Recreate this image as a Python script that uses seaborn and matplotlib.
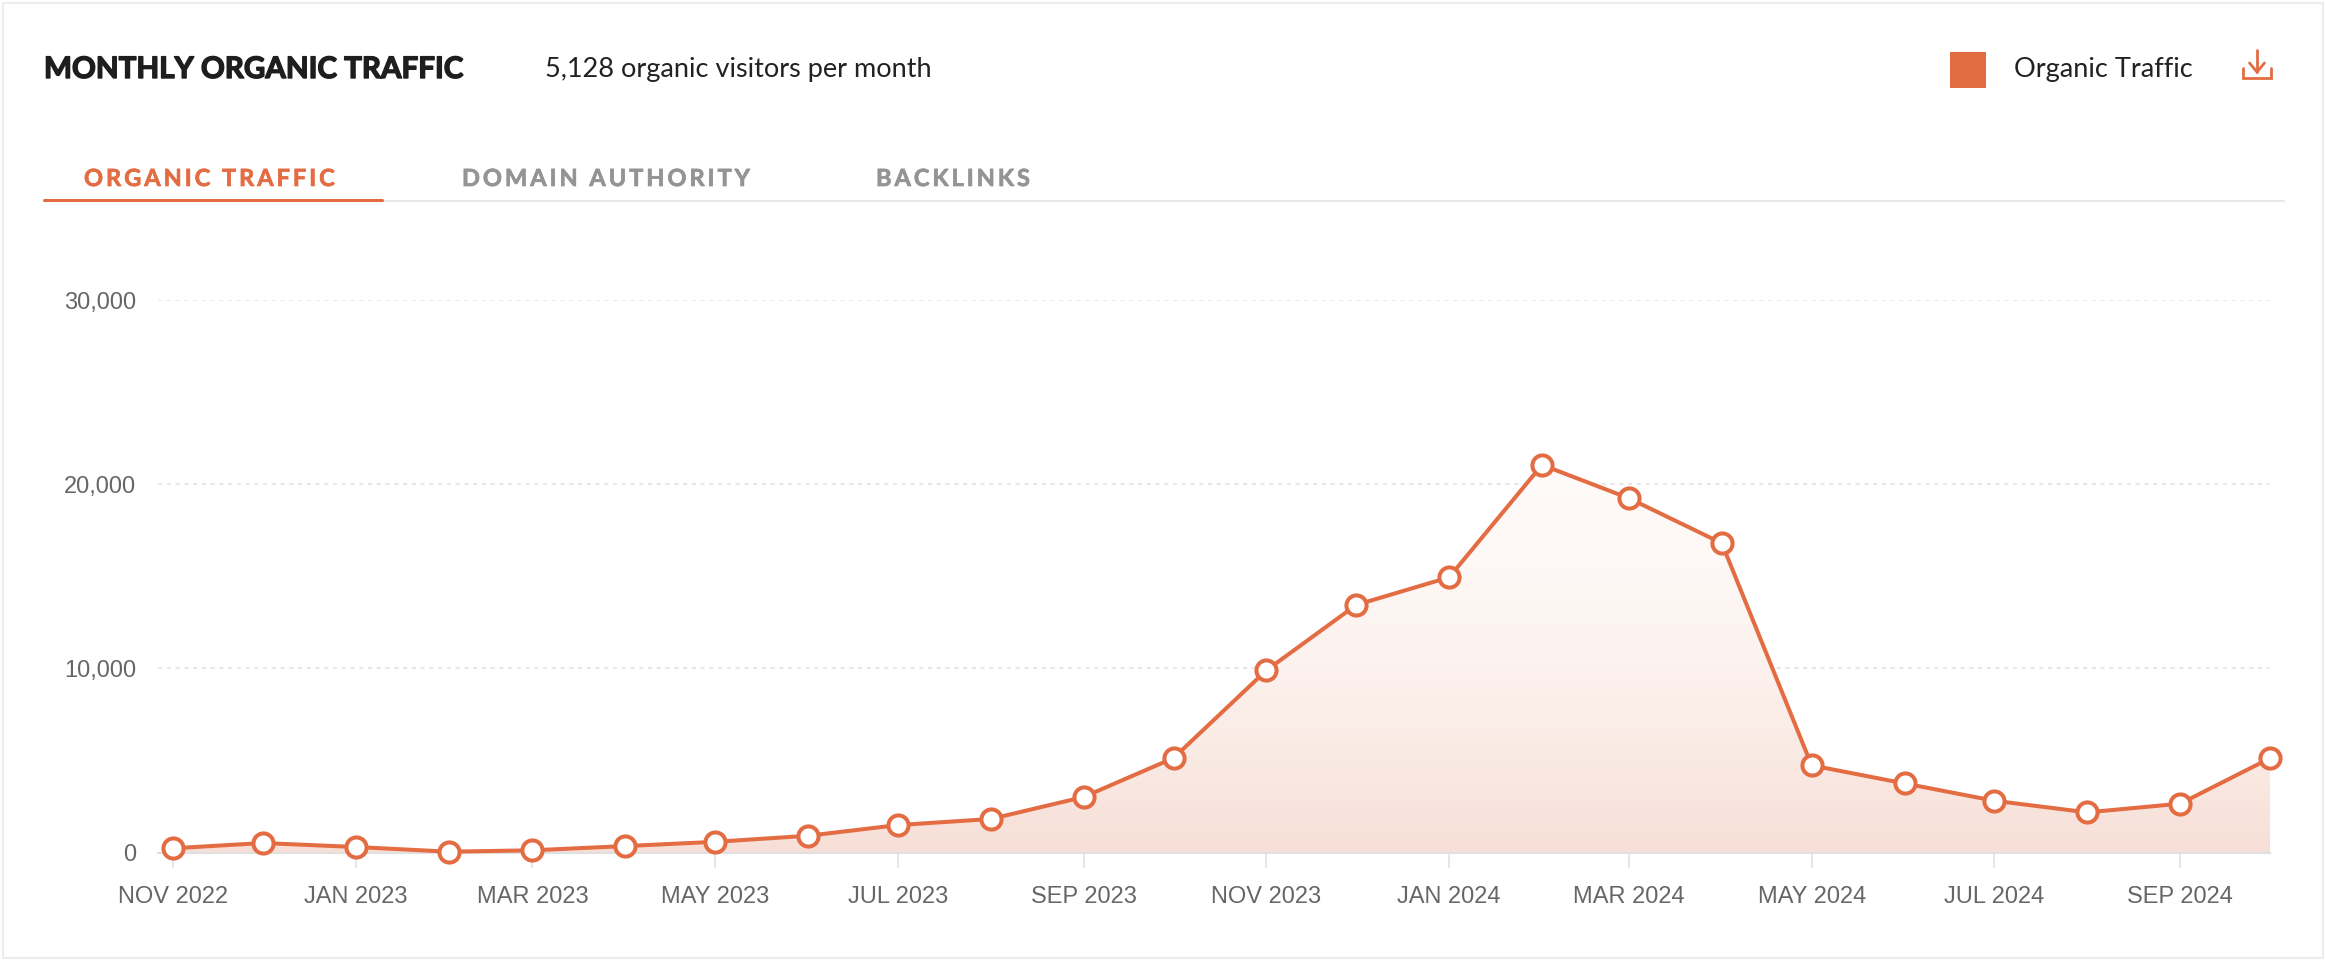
import pandas as pd
import matplotlib.pyplot as plt
import matplotlib.dates as mdates
import matplotlib.patheffects as pe
import numpy as np
import seaborn as sns
from matplotlib.lines import Line2D
from matplotlib.patches import Rectangle

months = pd.date_range("2022-11-01", "2024-10-01", freq="MS")
traffic = [240, 525, 310, 55, 130, 360, 590, 920, 1500, 1830, 3025, 5140,
           9900, 13450, 14950, 21050, 19240, 16800, 4740, 3760, 2820, 2190, 2660, 5128]
y_ticks = [0, 10000, 20000, 30000]
tick_months = pd.date_range("2022-11-01", "2024-09-01", freq="2MS")
tabs = ["ORGANIC TRAFFIC", "DOMAIN AUTHORITY", "BACKLINKS"]

ORANGE = "#E36C43"
W, H = 2326, 960

sns.set_theme(style="white")
plt.rcParams["font.family"] = ["Liberation Sans", "DejaVu Sans"]

df = pd.DataFrame({"month": months, "traffic": traffic})

fig = plt.figure(figsize=(W / 100, H / 100), dpi=100, facecolor="white")


def px(x, y):
    # pixel position in the screenshot -> figure fraction
    return x / W, 1 - y / H


# card border, header rules
fig.add_artist(Rectangle(px(3, 958), (W - 6) / W, 955 / H, fill=False, ec="#EDEDED", lw=1.5))
fig.add_artist(Line2D([44 / W, 2284 / W], [1 - 201 / H] * 2, color="#E8E8E8", lw=1.5))
fig.add_artist(Line2D([44 / W, 382 / W], [1 - 199.5 / H] * 2, color=ORANGE, lw=2.2))

# header text
fig.text(*px(44, 78), "MONTHLY ORGANIC TRAFFIC", family=["Lato", "DejaVu Sans"], weight="bold",
         fontsize=21.3, color="#1E1E1E", va="baseline",
         path_effects=[pe.withStroke(linewidth=1.0, foreground="#1E1E1E")])
fig.text(*px(545, 77), "5,128 organic visitors per month", family=["Lato", "DejaVu Sans"],
         fontsize=19.5, color="#222222", va="baseline")
fig.text(*px(2014, 77), "Organic Traffic", family=["Lato", "DejaVu Sans"],
         fontsize=19.5, color="#222222", va="baseline")
fig.add_artist(Rectangle(px(1950, 88), 36 / W, 36 / H, fc="#E26C42", ec="none"))

# download icon
for xs, ys in [([2257, 2257], [50, 72]), ([2249.5, 2257, 2264.5], [63, 72, 63]),
               ([2243, 2243, 2271, 2271], [68, 78, 78, 68])]:
    fig.add_artist(Line2D([x / W for x in xs], [1 - y / H for y in ys], color=ORANGE, lw=2.0,
                          solid_joinstyle="miter"))

# tabs, spaced out letters
tab_x = [84, 462, 876]
tab_colors = [ORANGE, "#949494", "#949494"]
for label, x, c in zip(tabs, tab_x, tab_colors):
    fig.text(*px(x, 186), "\u2009".join(label), family=["Lato", "DejaVu Sans"], weight="bold",
             fontsize=17, color=c, va="baseline",
             path_effects=[pe.withStroke(linewidth=0.5, foreground=c)])

# plot area
ax = fig.add_axes([158 / W, 1 - 852.7 / H, (2270 - 158) / W, (852.7 - 300) / H])

x_num = mdates.date2num(df["month"])
poly = ax.fill_between(x_num, df["traffic"], 0, color="none")
grad = np.linspace(0, 1, 256).reshape(-1, 1)
cmap = sns.blend_palette(["#F7DFD7", "#FAEAE4", "#FCF2EE", "#FEF8F6", "#FFFBFA"], as_cmap=True)
img = ax.imshow(grad, extent=[x_num[0], x_num[-1], 0, max(traffic)], origin="lower",
                aspect="auto", cmap=cmap, zorder=1)
img.set_clip_path(poly.get_paths()[0], transform=ax.transData)

sns.lineplot(data=df, x="month", y="traffic", ax=ax, color=ORANGE, lw=2.9, marker="o",
             markersize=14.5, markerfacecolor="white", markeredgecolor=ORANGE,
             markeredgewidth=2.9, clip_on=False, zorder=5, errorbar=None)

ax.set_ylim(0, 30000)
ax.set_xlim(pd.Timestamp("2022-10-27"), pd.Timestamp("2024-10-01"))
ax.set_xlabel("")
ax.set_ylabel("")
ax.set_yticks(y_ticks, [f"{v:,}" for v in y_ticks])
ax.set_xticks(tick_months, [d.strftime("%b %Y").upper() for d in tick_months])
ax.tick_params(axis="x", length=11, width=1.2, color="#E2E2E2", labelsize=17, labelcolor="#666666",
               pad=13, bottom=True)
ax.tick_params(axis="y", length=0, labelsize=17, labelcolor="#666666", pad=15.7)
ax.grid(axis="y", color="#E8E8E8", lw=1.5, ls=(0, (2, 2.2)))
ax.grid(axis="x", visible=False)
ax.set_axisbelow(True)
sns.despine(ax=ax, left=True)
ax.spines["bottom"].set_color("#E0E0E0")
ax.spines["bottom"].set_linewidth(1.5)
ax.set_facecolor("none")

fig.savefig("out.png", dpi=100)
